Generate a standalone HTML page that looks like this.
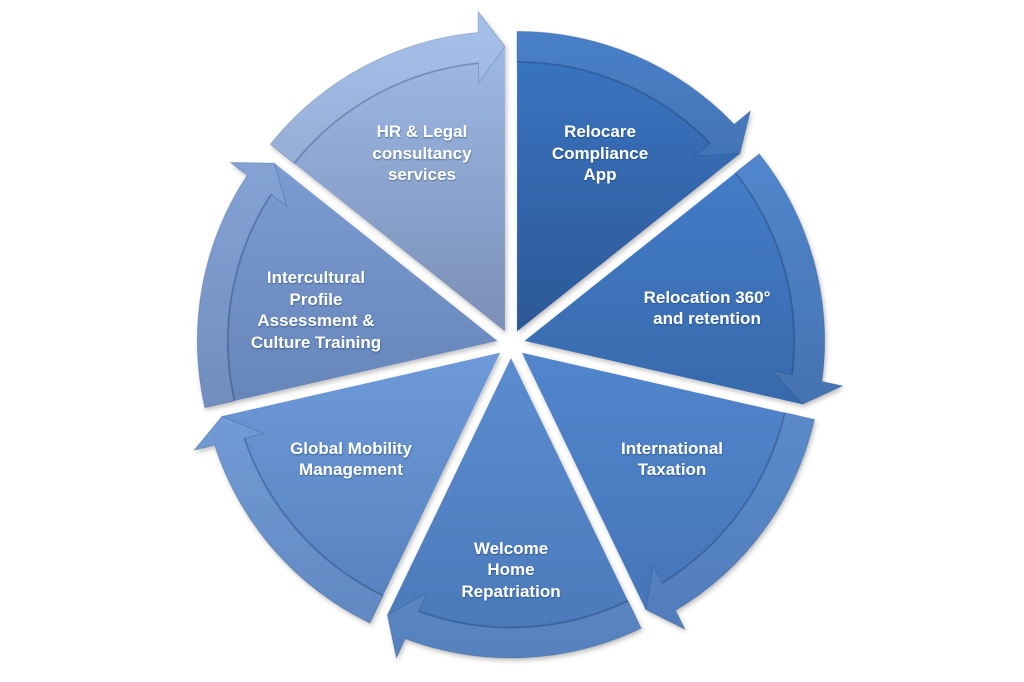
<!DOCTYPE html>
<html>
<head>
<meta charset="utf-8">
<style>
  html,body{margin:0;padding:0;background:#ffffff;width:1024px;height:682px;overflow:hidden;}
  svg{display:block;}
  text{font-family:"Liberation Sans", Arial, sans-serif;font-weight:bold;font-size:17px;fill:#ffffff;text-anchor:middle;}
  .il{fill:none;stroke:#1d3c6a;stroke-opacity:0.3;stroke-width:3;}
  .bo{fill:#ffffff;fill-opacity:0.07;stroke:#1d3c6a;stroke-opacity:0.25;stroke-width:1;}
</style>
</head>
<body>
<svg width="1024" height="682" viewBox="0 0 1024 682" xmlns="http://www.w3.org/2000/svg" style="overflow:hidden">
  <defs>
    <filter id="sh" filterUnits="userSpaceOnUse" x="0" y="0" width="1024" height="682">
      <feDropShadow dx="1.5" dy="2.5" stdDeviation="2.5" flood-color="#000000" flood-opacity="0.25"/>
    </filter>
    <filter id="ts" filterUnits="userSpaceOnUse" x="0" y="0" width="1024" height="682">
      <feDropShadow dx="0.5" dy="1" stdDeviation="0.8" flood-color="#0b2a55" flood-opacity="0.45"/>
    </filter>
    <linearGradient id="g0" gradientUnits="userSpaceOnUse" x1="0" y1="31" x2="0" y2="331">
      <stop offset="0" stop-color="#3b77c4"/><stop offset="1" stop-color="#2c5897"/>
    </linearGradient>
    <linearGradient id="g1" gradientUnits="userSpaceOnUse" x1="0" y1="154" x2="0" y2="408">
      <stop offset="0" stop-color="#447ec9"/><stop offset="1" stop-color="#3768ab"/>
    </linearGradient>
    <linearGradient id="g2" gradientUnits="userSpaceOnUse" x1="0" y1="352" x2="0" y2="622">
      <stop offset="0" stop-color="#5286cc"/><stop offset="1" stop-color="#4574b8"/>
    </linearGradient>
    <linearGradient id="g3" gradientUnits="userSpaceOnUse" x1="0" y1="358" x2="0" y2="658">
      <stop offset="0" stop-color="#5b8dd0"/><stop offset="1" stop-color="#4a78b8"/>
    </linearGradient>
    <linearGradient id="g4" gradientUnits="userSpaceOnUse" x1="0" y1="352" x2="0" y2="622">
      <stop offset="0" stop-color="#6e9ad9"/><stop offset="1" stop-color="#5680bd"/>
    </linearGradient>
    <linearGradient id="g5" gradientUnits="userSpaceOnUse" x1="0" y1="154" x2="0" y2="408">
      <stop offset="0" stop-color="#7c9dd3"/><stop offset="1" stop-color="#6685b9"/>
    </linearGradient>
    <linearGradient id="g6" gradientUnits="userSpaceOnUse" x1="0" y1="31" x2="0" y2="331">
      <stop offset="0" stop-color="#9fbbe8"/><stop offset="1" stop-color="#7a8fb6"/>
    </linearGradient>
  </defs>

  <!-- Segment 0: Relocare -->
  <g filter="url(#sh)">
    <path fill="url(#g0)" d="M 517.07,331.39 L 517.07,46.39 A 285 285 0 0 1 739.89,153.70 Z"/>
    <path class="il" d="M 517.07,61.39 A 270 270 0 0 1 710.63,143.15"/>
    <path fill="url(#g0)" d="M 517.07,31.39 A 300 300 0 0 1 734.18,124.34 L 750.41,110.95 L 739.89,153.70 L 695.16,155.94 L 710.63,143.15 A 270 270 0 0 0 517.07,61.39 Z"/>
    <path class="bo" d="M 517.07,31.39 A 300 300 0 0 1 734.18,124.34 L 750.41,110.95 L 739.89,153.70 L 695.16,155.94 L 710.63,143.15 A 270 270 0 0 0 517.07,61.39 Z"/>
  </g>
  <!-- Segment 1: Relocation 360 -->
  <g filter="url(#sh)">
    <path fill="url(#g1)" d="M 524.65,340.88 L 747.47,163.19 A 285 285 0 0 1 802.50,404.30 Z"/>
    <path class="il" d="M 735.74,172.54 A 270 270 0 0 1 792.50,374.84"/>
    <path fill="url(#g1)" d="M 759.20,153.83 A 300 300 0 0 1 821.90,381.53 L 842.49,385.87 L 802.50,404.30 L 772.86,370.73 L 792.50,374.84 A 270 270 0 0 0 735.74,172.54 Z"/>
    <path class="bo" d="M 759.20,153.83 A 300 300 0 0 1 821.90,381.53 L 842.49,385.87 L 802.50,404.30 L 772.86,370.73 L 792.50,374.84 A 270 270 0 0 0 735.74,172.54 Z"/>
  </g>
  <!-- Segment 2: International Taxation -->
  <g filter="url(#sh)">
    <path fill="url(#g2)" d="M 521.95,352.73 L 799.80,416.15 A 285 285 0 0 1 645.61,609.50 Z"/>
    <path class="il" d="M 785.18,412.81 A 270 270 0 0 1 662.40,583.33"/>
    <path fill="url(#g2)" d="M 814.43,419.49 A 300 300 0 0 1 675.50,610.47 L 684.94,629.27 L 645.61,609.50 L 653.37,565.40 L 662.40,583.33 A 270 270 0 0 0 785.18,412.81 Z"/>
    <path class="bo" d="M 814.43,419.49 A 300 300 0 0 1 675.50,610.47 L 684.94,629.27 L 645.61,609.50 L 653.37,565.40 L 662.40,583.33 A 270 270 0 0 0 785.18,412.81 Z"/>
  </g>
  <!-- Segment 3: Welcome Home -->
  <g filter="url(#sh)">
    <path fill="url(#g3)" d="M 511,358 L 634.66,614.78 A 285 285 0 0 1 387.35,614.77 Z"/>
    <path class="il" d="M 628.15,601.26 A 270 270 0 0 1 418.28,611.58"/>
    <path fill="url(#g3)" d="M 641.16,628.29 A 300 300 0 0 1 405.22,638.75 L 396.41,657.85 L 387.35,614.77 L 426.67,593.34 L 418.28,611.58 A 270 270 0 0 0 628.15,601.26 Z"/>
    <path class="bo" d="M 641.16,628.29 A 300 300 0 0 1 405.22,638.75 L 396.41,657.85 L 387.35,614.77 L 426.67,593.34 L 418.28,611.58 A 270 270 0 0 0 628.15,601.26 Z"/>
  </g>
  <!-- Segment 4: Global Mobility -->
  <g filter="url(#sh)">
    <path fill="url(#g4)" d="M 500.05,352.73 L 376.39,609.51 A 285 285 0 0 1 222.20,416.14 Z"/>
    <path class="il" d="M 382.90,595.99 A 270 270 0 0 1 243.99,438.35"/>
    <path fill="url(#g4)" d="M 369.89,623.02 A 300 300 0 0 1 214.61,445.08 L 194.18,450.10 L 222.20,416.14 L 263.48,433.53 L 243.99,438.35 A 270 270 0 0 0 382.90,595.99 Z"/>
    <path class="bo" d="M 369.89,623.02 A 300 300 0 0 1 214.61,445.08 L 194.18,450.10 L 222.20,416.14 L 263.48,433.53 L 243.99,438.35 A 270 270 0 0 0 382.90,595.99 Z"/>
  </g>
  <!-- Segment 5: Intercultural -->
  <g filter="url(#sh)">
    <path fill="url(#g5)" d="M 497.35,340.88 L 219.50,404.30 A 285 285 0 0 1 274.53,163.19 Z"/>
    <path class="il" d="M 234.12,400.96 A 270 270 0 0 1 270.76,194.06"/>
    <path fill="url(#g5)" d="M 204.87,407.64 A 300 300 0 0 1 247.18,175.28 L 230.52,162.44 L 274.53,163.19 L 286.67,206.29 L 270.76,194.06 A 270 270 0 0 0 234.12,400.96 Z"/>
    <path class="bo" d="M 204.87,407.64 A 300 300 0 0 1 247.18,175.28 L 230.52,162.44 L 274.53,163.19 L 286.67,206.29 L 270.76,194.06 A 270 270 0 0 0 234.12,400.96 Z"/>
  </g>
  <!-- Segment 6: HR & Legal -->
  <g filter="url(#sh)">
    <path fill="url(#g6)" d="M 504.93,331.39 L 282.11,153.70 A 285 285 0 0 1 504.94,46.39 Z"/>
    <path class="il" style="stroke-opacity:0.25" d="M 293.84,163.05 A 270 270 0 0 1 478.44,62.69"/>
    <path fill="url(#g6)" d="M 270.38,144.34 A 300 300 0 0 1 478.42,32.56 L 478.07,11.52 L 504.94,46.39 L 478.80,82.76 L 478.44,62.69 A 270 270 0 0 0 293.84,163.05 Z"/>
    <path class="bo" style="stroke-opacity:0.22" d="M 270.38,144.34 A 300 300 0 0 1 478.42,32.56 L 478.07,11.52 L 504.94,46.39 L 478.80,82.76 L 478.44,62.69 A 270 270 0 0 0 293.84,163.05 Z"/>
  </g>

  <!-- Labels -->
  <g filter="url(#ts)">
    <text x="422" y="137">HR &amp; Legal</text>
    <text x="422" y="159">consultancy</text>
    <text x="422" y="180">services</text>

    <text x="600" y="137">Relocare</text>
    <text x="600" y="159">Compliance</text>
    <text x="600" y="180">App</text>

    <text x="707" y="303">Relocation 360°</text>
    <text x="707" y="324">and retention</text>

    <text x="672" y="454">International</text>
    <text x="672" y="475">Taxation</text>

    <text x="511" y="554">Welcome</text>
    <text x="511" y="575">Home</text>
    <text x="511" y="597">Repatriation</text>

    <text x="351" y="454">Global Mobility</text>
    <text x="351" y="475">Management</text>

    <text x="316" y="283">Intercultural</text>
    <text x="316" y="305">Profile</text>
    <text x="316" y="326">Assessment &amp;</text>
    <text x="316" y="348">Culture Training</text>
  </g>
</svg>
</body>
</html>
